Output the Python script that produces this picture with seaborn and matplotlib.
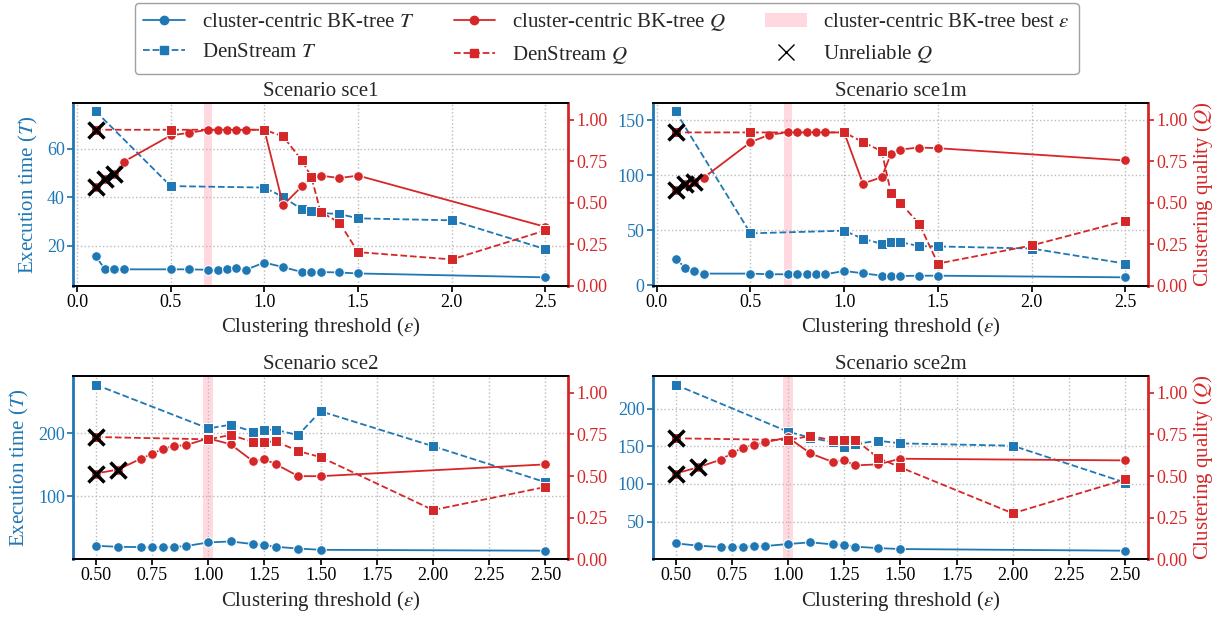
import numpy as np
import seaborn as sns
import matplotlib.pyplot as plt
from matplotlib.lines import Line2D
from matplotlib.patches import Patch

sns.set_theme(style="ticks")
plt.rcParams['font.family'] = ['Liberation Serif', 'DejaVu Serif']
plt.rcParams['mathtext.fontset'] = 'stix'

BLUE = '#1f77b4'
RED = '#d62728'

# Valores de epsilon
eps_bk_1 = [0.1, 0.15, 0.2, 0.25, 0.5, 0.6, 0.7, 0.75, 0.8, 0.85, 0.9, 1.0, 1.1, 1.2, 1.25, 1.3, 1.4, 1.5, 2.5]
eps_ds_1 = [0.1, 0.5, 1.0, 1.1, 1.2, 1.25, 1.3, 1.4, 1.5, 2.0, 2.5]
eps_bk_2 = [0.5, 0.6, 0.7, 0.75, 0.8, 0.85, 0.9, 1.0, 1.1, 1.2, 1.25, 1.3, 1.4, 1.5, 2.5]
eps_ds_2 = [0.5, 1.0, 1.1, 1.2, 1.25, 1.3, 1.4, 1.5, 2.0, 2.5]

# sce1
sce1_bk_t = [15.6, 10.3, 10.3, 10.3, 10.3, 10.3, 10.1, 10.1, 10.3, 10.8, 10.1, 13.1, 11.2, 9.2, 9.2, 9.2, 9.0, 8.6, 7.0]
sce1_ds_t = [75.4, 44.6, 44.0, 40.1, 35.0, 34.3, 33.5, 33.1, 31.3, 30.5, 18.6]
sce1_bk_q = [0.596, 0.642, 0.673, 0.747, 0.905, 0.921, 0.939, 0.939, 0.939, 0.939, 0.939, 0.939, 0.485, 0.598, 0.65, 0.663, 0.648, 0.663, 0.354]
sce1_ds_q = [0.939, 0.939, 0.939, 0.899, 0.754, 0.657, 0.444, 0.380, 0.202, 0.158, 0.333]

# sce1m
sce1m_bk_t = [24.4, 16.2, 12.8, 10.7, 10.7, 10.1, 10.1, 10.1, 10.1, 10.1, 10.1, 13.1, 11.0, 8.8, 8.5, 8.5, 8.8, 8.8, 7.3]
sce1m_ds_t = [158.2, 47.3, 49.7, 42.4, 37.8, 39.3, 39.3, 35.7, 35.4, 33.5, 19.8]
sce1m_bk_q = [0.576, 0.615, 0.627, 0.65, 0.864, 0.909, 0.923, 0.923, 0.923, 0.923, 0.923, 0.923, 0.615, 0.653, 0.794, 0.82, 0.832, 0.828, 0.754]
sce1m_ds_q = [0.923, 0.923, 0.923, 0.865, 0.81, 0.558, 0.497, 0.374, 0.133, 0.242, 0.39]

# sce2
sce2_bk_t = [21.4, 19.8, 19.3, 19.3, 19.3, 19.8, 20.9, 26.7, 28.3, 24.1, 22.5, 19.8, 17.1, 15.0, 13.6]
sce2_ds_t = [277.5, 208.0, 213.9, 202.7, 205.9, 205.9, 197.3, 235.3, 179.7, 122.5]
sce2_bk_q = [0.515, 0.539, 0.604, 0.632, 0.665, 0.681, 0.685, 0.727, 0.691, 0.588, 0.6, 0.572, 0.499, 0.499, 0.57]
sce2_ds_q = [0.735, 0.721, 0.747, 0.705, 0.705, 0.709, 0.65, 0.614, 0.295, 0.434]

# sce2m
sce2m_bk_t = [21.0, 17.9, 16.1, 16.5, 16.5, 17.0, 17.4, 20.1, 22.3, 19.6, 18.8, 16.5, 14.7, 13.4, 11.2]
sce2m_ds_t = [232.1, 169.6, 161.6, 155.4, 149.6, 153.1, 157.6, 154.0, 150.9, 101.8]
sce2m_bk_q = [0.515, 0.552, 0.598, 0.636, 0.671, 0.687, 0.703, 0.733, 0.636, 0.584, 0.594, 0.564, 0.57, 0.604, 0.594]
sce2m_ds_q = [0.727, 0.717, 0.741, 0.715, 0.715, 0.719, 0.61, 0.552, 0.275, 0.479]

# Q nao confiavel (valores de epsilon)
unrel_bk_1 = [0.1, 0.15, 0.2]
unrel_ds_1 = [0.1]
unrel_bk_2 = [0.5, 0.6]
unrel_ds_2 = [0.5]

cenarios = [
    ("sce1", eps_bk_1, eps_ds_1, sce1_bk_t, sce1_ds_t, sce1_bk_q, sce1_ds_q, unrel_bk_1, unrel_ds_1, 0.7),
    ("sce1m", eps_bk_1, eps_ds_1, sce1m_bk_t, sce1m_ds_t, sce1m_bk_q, sce1m_ds_q, unrel_bk_1, unrel_ds_1, 0.7),
    ("sce2", eps_bk_2, eps_ds_2, sce2_bk_t, sce2_ds_t, sce2_bk_q, sce2_ds_q, unrel_bk_2, unrel_ds_2, 1.0),
    ("sce2m", eps_bk_2, eps_ds_2, sce2m_bk_t, sce2m_ds_t, sce2m_bk_q, sce2m_ds_q, unrel_bk_2, unrel_ds_2, 1.0),
]

fig, axes = plt.subplots(2, 2, figsize=(12.21, 6.17), dpi=100)
plt.subplots_adjust(left=0.06, right=0.94, top=0.833, bottom=0.094, wspace=0.172, hspace=0.497)

for i, (nome, e_bk, e_ds, bk_t, ds_t, bk_q, ds_q, u_bk, u_ds, best) in enumerate(cenarios):
    ax = axes.flat[i]
    ax2 = ax.twinx()

    ax.axvspan(best - 0.022, best + 0.022, color='pink', alpha=0.6, lw=0, zorder=0)

    sns.lineplot(x=e_bk, y=bk_t, ax=ax, color=BLUE, marker='o', markersize=7, linewidth=1.3)
    sns.lineplot(x=e_ds, y=ds_t, ax=ax, color=BLUE, marker='s', markersize=7, linewidth=1.3, linestyle='--')
    sns.lineplot(x=e_bk, y=bk_q, ax=ax2, color=RED, marker='o', markersize=7, linewidth=1.3)
    sns.lineplot(x=e_ds, y=ds_q, ax=ax2, color=RED, marker='s', markersize=7, linewidth=1.3, linestyle='--')

    ux = [e for e in e_bk if e in u_bk] + [e for e in e_ds if e in u_ds]
    uy = [bk_q[e_bk.index(e)] for e in e_bk if e in u_bk] + [ds_q[e_ds.index(e)] for e in e_ds if e in u_ds]
    ax2.plot(ux, uy, linestyle='none', marker='x', color='black', markersize=11, markeredgewidth=2.5, zorder=5)

    ax2.set_ylim(0, 1.1)
    ax2.set_yticks([0, 0.25, 0.5, 0.75, 1.0])
    ax2.set_yticklabels(['0.00', '0.25', '0.50', '0.75', '1.00'])

    if i >= 2:
        ax.set_xticks([0.5, 0.75, 1.0, 1.25, 1.5, 1.75, 2.0, 2.25, 2.5])
        ax.set_xticklabels(['0.50', '0.75', '1.00', '1.25', '1.50', '1.75', '2.00', '2.25', '2.50'])
    else:
        ax.set_xticks([0.0, 0.5, 1.0, 1.5, 2.0, 2.5])
        ax.set_xticklabels(['0.0', '0.5', '1.0', '1.5', '2.0', '2.5'])

    ax.grid(True, linestyle=':', color='#bbbbbb', linewidth=1)
    ax.set_title(f"Scenario {nome}", fontsize=15, pad=5)
    ax.set_xlabel(r"Clustering threshold ($\varepsilon$)", fontsize=15, labelpad=3)
    if i % 2 == 0:
        ax.set_ylabel(r"Execution time ($T$)", fontsize=15, color=BLUE, labelpad=5)
    if i % 2 == 1:
        ax2.set_ylabel(r"Clustering quality ($Q$)", fontsize=15, color=RED, labelpad=3)

    ax.spines['left'].set_color(BLUE)
    ax.spines['left'].set_linewidth(2)
    ax.spines['right'].set_visible(False)
    ax2.spines['left'].set_visible(False)
    ax2.spines['right'].set_color(RED)
    ax2.spines['right'].set_linewidth(2)
    for s in ['top', 'bottom']:
        ax.spines[s].set_color('black')
        ax2.spines[s].set_color('black')
    ax.tick_params(axis='y', colors=BLUE, labelsize=13, direction='out', length=4, pad=2)
    ax.tick_params(axis='x', labelsize=13, direction='out', length=4, color='black', labelcolor='black', pad=2)
    ax2.tick_params(axis='y', colors=RED, labelsize=13, direction='out', length=4, pad=2)

handles = [
    Line2D([], [], color=BLUE, marker='o', markersize=6, linewidth=1.3),
    Line2D([], [], color=BLUE, marker='s', markersize=6, linewidth=1.3, linestyle='--'),
    Line2D([], [], color=RED, marker='o', markersize=6, linewidth=1.3),
    Line2D([], [], color=RED, marker='s', markersize=6, linewidth=1.3, linestyle='--'),
    Patch(facecolor='pink', alpha=0.6, edgecolor='none'),
    Line2D([], [], color='black', marker='x', markersize=11, linestyle='none'),
]
labels = [
    r"cluster-centric BK-tree $T$",
    r"DenStream $T$",
    r"cluster-centric BK-tree $Q$",
    r"DenStream $Q$",
    r"cluster-centric BK-tree best $\varepsilon$",
    r"Unreliable $Q$",
]
fig.legend(handles, labels, loc='upper center', bbox_to_anchor=(0.497, 0.995), ncol=3,
           fontsize=15, frameon=True, edgecolor='#888888', columnspacing=1.9, handlelength=2.0,
           handletextpad=0.8, labelspacing=0.5, borderpad=0.4, borderaxespad=0)

plt.savefig("out.png", dpi=100)
